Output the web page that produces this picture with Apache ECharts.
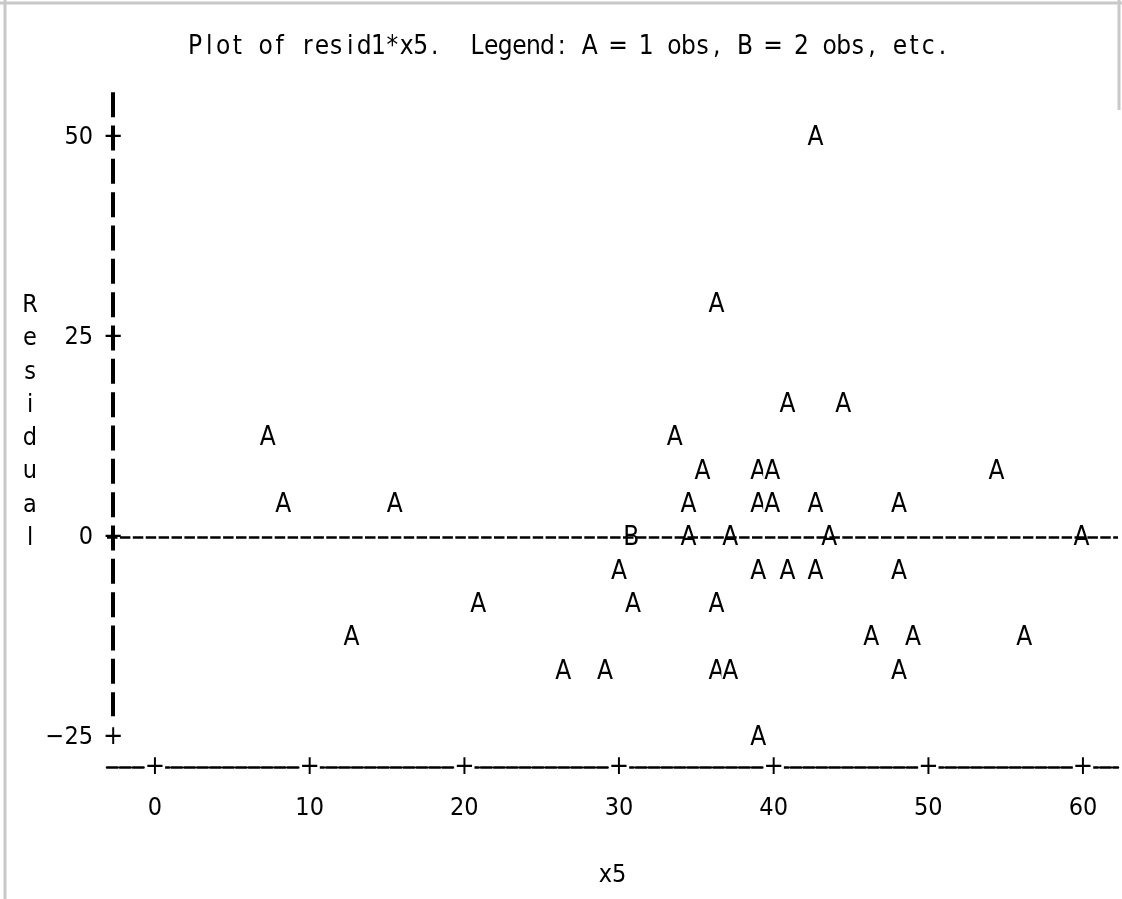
<!DOCTYPE html>
<html>
<head>
<meta charset="utf-8">
<script src="https://cdn.jsdelivr.net/npm/echarts@6/dist/echarts.min.js"></script>
<style>
html,body{margin:0;padding:0;background:#fff;}
#chart{width:1122px;height:899px;}
</style>
</head>
<body>
<div id="chart"></div>
<script>
// ---- data ----
const titleText = 'Plot of resid1*x5.  Legend: A = 1 obs, B = 2 obs, etc.';
const xName = 'x5';
const yName = 'Residual';
const xTicks = [0, 10, 20, 30, 40, 50, 60];
const yTicks = [-25, 0, 25, 50];
const obsX = [42.7, 36.3, 40.9, 44.5, 7.3, 33.6, 35.4, 39.0, 39.9, 54.4,
              8.3, 15.5, 34.5, 39.0, 39.9, 42.7, 48.1,
              30.8, 34.5, 37.2, 43.6, 59.9,
              30.0, 39.0, 40.9, 42.7, 48.1,
              20.9, 30.9, 36.3,
              12.7, 46.3, 49.0, 56.2,
              26.4, 29.1, 36.3, 37.2, 48.1,
              39.0];
const obsY = [50, 29.17, 16.67, 16.67, 12.5, 12.5, 8.33, 8.33, 8.33, 8.33,
              4.17, 4.17, 4.17, 4.17, 4.17, 4.17, 4.17,
              0, 0, 0, 0, 0,
              -4.17, -4.17, -4.17, -4.17, -4.17,
              -8.33, -8.33, -8.33,
              -12.5, -12.5, -12.5, -12.5,
              -16.67, -16.67, -16.67, -16.67, -16.67,
              -25];
const obsN = [1, 1, 1, 1, 1, 1, 1, 1, 1, 1,
              1, 1, 1, 1, 1, 1, 1,
              2, 1, 1, 1, 1,
              1, 1, 1, 1, 1,
              1, 1, 1,
              1, 1, 1, 1,
              1, 1, 1, 1, 1,
              1];

// ---- layout / style ----
const FONT = '"Liberation Sans Narrow", "DejaVu Sans Condensed", "Noto Sans CJK JP", sans-serif';
const X_MIN = -3.1, X_MAX = 62.26;
const Y_MIN = -28.75, Y_MAX = 55.75;
const Y_AXIS_X = -2.7;
const H_DASH = [10.5, 2.4];

// monospaced rendering of a string with the narrow font (fixed character cell)
function mono(str) {
  return str.split('').map(ch => '{c|' + (ch === ' ' ? '\u00a0' : ch) + '}').join('');
}

const chart = echarts.init(document.getElementById('chart'), null, {renderer: 'canvas'});

const obsData = obsX.map((x, i) => [x, obsY[i], obsN[i]]);
const plusData = xTicks.map(t => [t, Y_MIN]).concat(yTicks.map(t => [Y_AXIS_X, t]));

const option = {
  backgroundColor: '#fff',
  animation: false,
  title: {
    text: mono(titleText),
    left: 183, top: 29,
    textStyle: {
      fontFamily: FONT, fontSize: 26, fontWeight: 'normal', color: '#000',
      rich: {c: {width: 14.1, align: 'center', fontFamily: FONT, fontSize: 26, color: '#000'}}
    }
  },
  graphic: [
    {type: 'line', shape: {x1: 5, y1: 0, x2: 5, y2: 899}, style: {stroke: '#c8c8c8', lineWidth: 3}},
    {type: 'line', shape: {x1: 0, y1: 3, x2: 1122, y2: 3}, style: {stroke: '#c8c8c8', lineWidth: 3}},
    {type: 'line', shape: {x1: 1119, y1: 0, x2: 1119, y2: 110}, style: {stroke: '#c8c8c8', lineWidth: 3}}
  ],
  grid: {left: 107, right: 4, top: 91, bottom: 132, containLabel: false},
  xAxis: {
    type: 'value', min: X_MIN, max: X_MAX,
    name: xName, nameLocation: 'middle', nameGap: 96,
    nameTextStyle: {fontFamily: FONT, fontSize: 25, color: '#000'},
    axisLine: {show: true, onZero: false, lineStyle: {color: '#000', width: 2.6, type: H_DASH}},
    axisTick: {show: false},
    splitLine: {show: false},
    axisLabel: {customValues: xTicks, margin: 29, fontFamily: FONT, fontSize: 25, color: '#000'}
  },
  yAxis: {
    type: 'value', min: Y_MIN, max: Y_MAX,
    name: yName.split('').join('\n') + '\n{s|\u00a0}', nameLocation: 'middle', nameGap: 77, nameRotate: 0,
    nameTextStyle: {fontFamily: FONT, fontSize: 25, color: '#000', lineHeight: 33.33,
                    align: 'center', verticalAlign: 'middle',
                    rich: {s: {lineHeight: 14, fontSize: 10}}},
    axisLine: {show: false, onZero: false},
    axisTick: {show: false},
    splitLine: {show: false},
    axisLabel: {customValues: yTicks, margin: 14, fontFamily: FONT, fontSize: 25, color: '#000',
                padding: [3, 0, 0, 0],
                formatter: v => (v < 0 ? '\u2212' + Math.abs(v) : String(v))}
  },
  series: [
    {
      type: 'line', data: [], z: 1, silent: true,
      markLine: {
        silent: true, symbol: 'none', label: {show: false}, animation: false,
        lineStyle: {type: [25, 8.33], width: 4, color: '#000', opacity: 1},
        data: [
          [{coord: [Y_AXIS_X, Y_MAX - 0.15]}, {coord: [Y_AXIS_X, -22.4]}]
        ]
      }
    },
    {
      type: 'line', data: [], z: 1, silent: true,
      markLine: {
        silent: true, symbol: 'none', label: {show: false}, animation: false,
        lineStyle: {type: H_DASH, width: 2.6, color: '#000', opacity: 1},
        data: [
          [{coord: [X_MIN, 0]}, {coord: [X_MAX, 0]}]
        ]
      }
    },
    {
      type: 'scatter', data: plusData, z: 3, silent: true,
      symbolSize: 0.1, itemStyle: {color: '#fff', opacity: 1},
      label: {show: true, position: 'inside', formatter: '+', fontFamily: FONT, fontSize: 27,
              color: '#000', opacity: 1, backgroundColor: '#fff', padding: [2, 0], lineHeight: 26}
    },
    {
      type: 'scatter', data: obsData, z: 4, silent: true,
      symbolSize: 0.1, itemStyle: {color: '#fff', opacity: 1},
      label: {show: true, position: 'inside', offset: [0, 1.5],
              formatter: p => String.fromCharCode(64 + p.value[2]),
              fontFamily: FONT, fontSize: 26, color: '#000', opacity: 1, backgroundColor: '#fff',
              padding: [0, 1], lineHeight: 26}
    }
  ]
};
chart.setOption(option);
</script>
</body>
</html>
